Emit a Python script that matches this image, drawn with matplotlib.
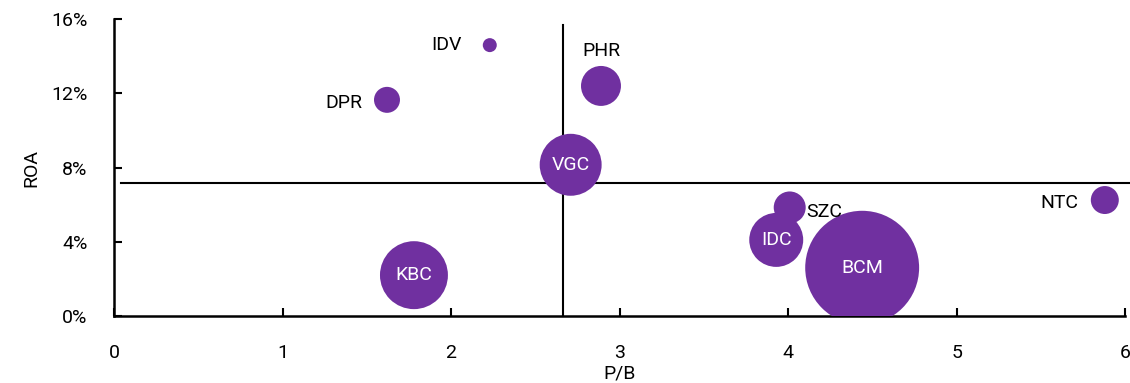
import numpy as np
import matplotlib
matplotlib.use("Agg")
import matplotlib.pyplot as plt
from matplotlib.ticker import PercentFormatter

plt.rcParams['font.family'] = ['Roboto', 'DejaVu Sans']

tickers = ['IDV', 'DPR', 'PHR', 'VGC', 'KBC', 'SZC', 'IDC', 'BCM', 'NTC']
pb = [2.23, 1.62, 2.89, 2.71, 1.78, 4.01, 3.93, 4.44, 5.88]
roa = [14.6, 11.65, 12.4, 8.15, 2.2, 5.85, 4.1, 2.6, 6.25]
size = [49, 169, 400, 961, 1156, 256, 729, 3249, 196]

avg_pb = 2.665
avg_roa = 7.15

# where to put each label: inside bubble or outside with offset in points
label_pos = {
    'IDV': ('out', (-20, 0), 'right'),
    'DPR': ('out', (-18, -2), 'right'),
    'PHR': ('out', (0, 25), 'center'),
    'SZC': ('out', (12, -3), 'left'),
    'NTC': ('out', (-19, -2), 'right'),
    'VGC': ('in', (0, 0), 'center'),
    'KBC': ('in', (0, 0), 'center'),
    'IDC': ('in', (0, 0), 'center'),
    'BCM': ('in', (0, 0), 'center'),
}

fig = plt.figure(figsize=(11.3, 3.83), dpi=100)
ax = fig.add_axes([0.1009, 0.175, 0.8947, 0.775])

purple = '#7030A0'
ax.scatter(pb, roa, s=np.array(size) * 2.07, color=purple, edgecolors='none', zorder=3)

# average lines
ax.plot([0.04, 6.05], [avg_roa, avg_roa], color='black', lw=1.5, zorder=2, clip_on=False)
ax.plot([avg_pb, avg_pb], [0, 15.7], color='black', lw=1.5, zorder=2, clip_on=False)

for t, x, y in zip(tickers, pb, roa):
    kind, off, ha = label_pos[t]
    col = 'white' if kind == 'in' else 'black'
    ax.annotate(t, (x, y), xytext=off, textcoords='offset points',
                ha=ha, va='center', fontsize=14, color=col, zorder=4)

ax.set_xlim(0, 6)
ax.set_ylim(0, 16)
ax.set_xticks(range(0, 7))
ax.set_yticks([0, 4, 8, 12, 16])
ax.yaxis.set_major_formatter(PercentFormatter(decimals=0))
ax.tick_params(direction='in', length=6, width=1.5, labelsize=14)
ax.tick_params(axis='x', pad=20)
ax.tick_params(axis='y', pad=19)
ax.spines['top'].set_visible(False)
ax.spines['right'].set_visible(False)
ax.spines['left'].set_linewidth(1.8)
ax.spines['bottom'].set_linewidth(1.8)
ax.set_xlabel('P/B', fontsize=14)
ax.xaxis.set_label_coords(0.5, -0.165)
ax.set_ylabel('ROA', fontsize=14, labelpad=8)

fig.savefig('out.png', dpi=100)
